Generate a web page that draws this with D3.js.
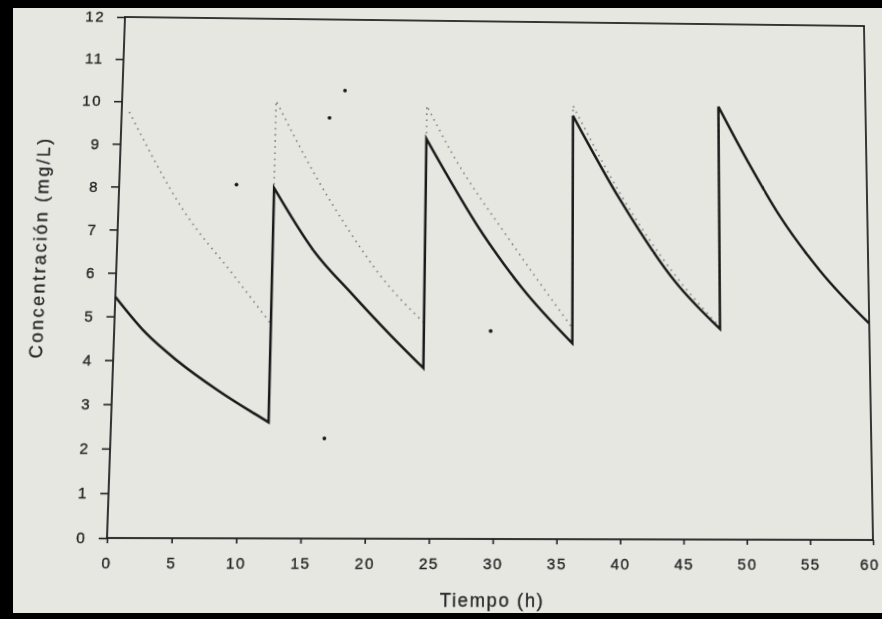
<!DOCTYPE html>
<html>
<head>
<meta charset="utf-8">
<script src="https://cdn.jsdelivr.net/npm/d3@7"></script>
<style>
  body { margin: 0; background: #000; width: 882px; height: 619px; overflow: hidden; position: relative; }
  #hoja { position: absolute; left: 13px; top: 8px; width: 869px; height: 605px; background: #e7e7e2; }
  #grafico { position: absolute; left: 0; top: 0; transform-origin: 0 0; }
  text { font-family: "Liberation Sans", Arial, sans-serif; fill: #262626; }
</style>
</head>
<body>
<div id="hoja"></div>
<svg id="grafico" width="882" height="619"></svg>
<script>
// etiquetas de los ejes
var xTicks = [0, 5, 10, 15, 20, 25, 30, 35, 40, 45, 50, 55, 60];
var yTicks = [0, 1, 2, 3, 4, 5, 6, 7, 8, 9, 10, 11, 12];

// curva continua: un tramo por intervalo de dosis [tiempo (h), conc (mg/L)]
var continua = [
  [[0, 5.45], [2.5, 4.62], [5, 4.0], [8.3, 3.32], [12.3, 2.61]],
  [[12.3, 8.0], [15.6, 6.53], [18.7, 5.54], [21.7, 4.63], [24.4, 3.86]],
  [[24.4, 9.19], [29.0, 6.97], [32.2, 5.71], [36.2, 4.45]],
  [[36.2, 9.77], [40.0, 7.8], [44.4, 5.9], [48.0, 4.8]],
  [[48.0, 10.02], [50.4, 8.7], [53.0, 7.4], [56.1, 6.17], [60, 4.95]]
];

// curva punteada (estado estacionario)
var punteada = [
  [[0.6, 9.75], [5.1, 7.48], [9.3, 5.95], [12.3, 4.85]],
  [[12.3, 10.05], [15.5, 8.33], [18.35, 7.01], [21.05, 5.92], [24.4, 4.9]],
  [[24.4, 9.97], [26.5, 8.84], [31.2, 6.81], [36.2, 4.8]],
  [[36.2, 10.01], [40.0, 7.95], [44.4, 6.05], [48.0, 4.85]],
  [[48.0, 10.02], [50.4, 8.7], [53.0, 7.4], [56.1, 6.17], [60, 4.95]]
];

// manchas sueltas de la pagina
var manchas = [[9.3, 8.07], [17.8, 10.31], [16.6, 9.66], [29.7, 4.72], [16.7, 2.25]];

var L = 116, R = 868, T = 21, B = 538;

var svg = d3.select("#grafico");

var x = d3.scaleLinear().domain([0, 60]).range([L, R]),
    y = d3.scaleLinear().domain([0, 12]).range([B, T]);

// ejes
var ejeX = svg.append("g")
    .attr("transform", "translate(0," + B + ")")
    .call(d3.axisBottom(x).tickValues(xTicks).tickSize(5).tickSizeOuter(0).tickPadding(13))
    .call(function(g) { g.select(".domain").remove(); });

svg.append("g")
    .attr("transform", "translate(" + L + ",0)")
    .call(d3.axisLeft(y).tickValues(yTicks).tickSize(8).tickSizeOuter(0).tickPadding(12))
    .call(function(g) { g.select(".domain").remove(); });

svg.selectAll(".tick text")
    .style("font-size", "15px")
    .style("letter-spacing", "1.5px")
    .attr("fill", "#262626")
    .attr("stroke", "#262626")
    .attr("stroke-width", 0.35);

// el 60 queda pegado al borde de la foto
ejeX.selectAll(".tick text").filter(function(d) { return d === 60; }).attr("dx", -4);

svg.selectAll(".tick line").attr("stroke", "#262626").attr("stroke-width", 1.6);

// marco
svg.append("rect")
    .attr("x", L).attr("y", T)
    .attr("width", R - L).attr("height", B - T)
    .attr("fill", "none")
    .attr("stroke", "#222")
    .attr("stroke-width", 1.8);

// une los tramos con saltos verticales
var linea = d3.line()
    .x(function(d) { return x(d[0]); })
    .y(function(d) { return y(d[1]); })
    .curve(d3.curveMonotoneX);

function camino(tramos) {
  return tramos.map(function(s, i) {
    var d = linea(s);
    return i ? "L" + d.slice(1) : d;
  }).join("");
}

svg.append("path")
    .attr("d", camino(punteada))
    .attr("fill", "none")
    .attr("stroke", "#868682")
    .attr("stroke-width", 1.7)
    .attr("stroke-dasharray", "1.6 4.6");

svg.append("path")
    .attr("d", camino(continua))
    .attr("fill", "none")
    .attr("stroke", "#1a1a1a")
    .attr("stroke-width", 2.5)
    .attr("stroke-linejoin", "miter");

svg.selectAll(".mancha")
    .data(manchas)
  .enter().append("circle")
    .attr("class", "mancha")
    .attr("cx", function(d) { return x(d[0]); })
    .attr("cy", function(d) { return y(d[1]); })
    .attr("r", 1.9)
    .attr("fill", "#1a1a1a");

// titulos de los ejes
svg.append("text")
    .attr("transform", "translate(40,254) rotate(-90)")
    .attr("text-anchor", "middle")
    .attr("dominant-baseline", "central")
    .attr("stroke", "#262626")
    .attr("stroke-width", 0.3)
    .style("font-size", "18px")
    .style("letter-spacing", "2.4px")
    .text("Concentración (mg/L)");

svg.append("text")
    .attr("x", (L + R) / 2)
    .attr("y", 603)
    .attr("text-anchor", "middle")
    .attr("stroke", "#262626")
    .attr("stroke-width", 0.3)
    .style("font-size", "18px")
    .style("letter-spacing", "1.6px")
    .text("Tiempo (h)");

// la foto esta en perspectiva: se pasa el rectangulo a las esquinas medidas
function homografia(src, dst) {
  var A = [];
  src.forEach(function(p, i) {
    var px = p[0], py = p[1], u = dst[i][0], v = dst[i][1];
    A.push([px, py, 1, 0, 0, 0, -px * u, -py * u, u]);
    A.push([0, 0, 0, px, py, 1, -px * v, -py * v, v]);
  });
  for (var c = 0; c < 8; c++) {
    var piv = c;
    for (var r = c + 1; r < 8; r++) if (Math.abs(A[r][c]) > Math.abs(A[piv][c])) piv = r;
    var tmp = A[c]; A[c] = A[piv]; A[piv] = tmp;
    for (var r2 = 0; r2 < 8; r2++) {
      if (r2 === c) continue;
      var f = A[r2][c] / A[c][c];
      for (var k = c; k < 9; k++) A[r2][k] -= f * A[c][k];
    }
  }
  return A.map(function(row, i) { return row[8] / row[i]; });
}

var h = homografia(
  [[L, T], [R, T], [L, B], [R, B]],
  [[125, 17], [864, 26], [107, 538], [873, 540]]
);

svg.style("transform", "matrix3d(" + [h[0], h[3], 0, h[6], h[1], h[4], 0, h[7], 0, 0, 1, 0, h[2], h[5], 0, 1].join(",") + ")");
</script>
</body>
</html>
